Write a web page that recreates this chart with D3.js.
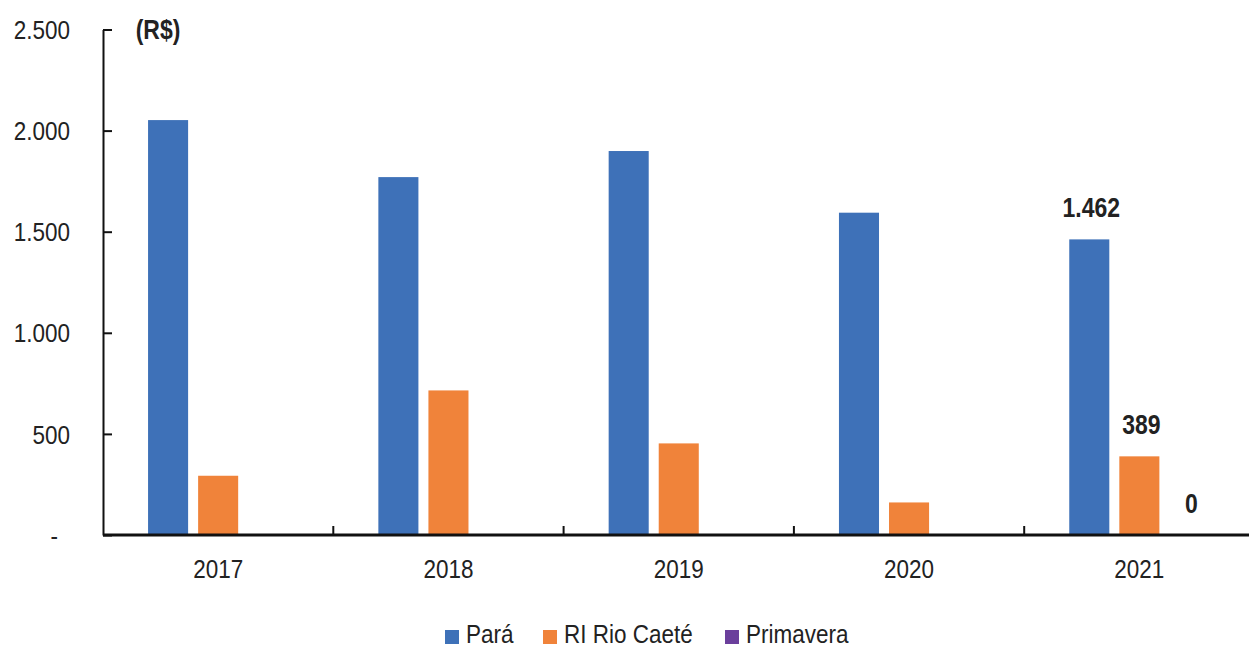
<!DOCTYPE html>
<html><head><meta charset="utf-8">
<script src="https://cdn.jsdelivr.net/npm/d3@7"></script>
<style>
html,body{margin:0;padding:0;background:#fff;}
text{font-family:"Liberation Sans",Arial,sans-serif;fill:#222;}
</style></head>
<body>
<svg id="c" width="1249" height="649"></svg>
<script>
const years = ["2017","2018","2019","2020","2021"];
const seriesNames = ["Pará","RI Rio Caeté","Primavera"];
const para = [2052, 1770, 1899, 1594, 1462];
const rioCaete = [293, 715, 453, 161, 389];
const primavera = [0, 0, 0, 0, 0];
const seriesColors = ["#3e71b8","#f0833a","#6b3f9c"];
const yTicks = [0, 500, 1000, 1500, 2000, 2500];
const yTickLabels = ["-", "500", "1.000", "1.500", "2.000", "2.500"];
const unitLabel = "(R$)";
const valueLabels = [{s:0, i:4, t:"1.462"}, {s:1, i:4, t:"389"}, {s:2, i:4, t:"0"}];

const seriesValues = [para, rioCaete, primavera];
const SY = 1.18; // vertical text stretch
const svg = d3.select("#c");
const x0 = 103, x1 = 1254.5, yTop = 29.5, yBase = 535;
const x = d3.scaleBand().domain(years).range([x0, x1]).padding(0);
const xs = d3.scaleBand().domain(seriesNames).range([0, x.bandwidth()]).paddingInner(0.2).paddingOuter(0.9);
const y = d3.scaleLinear().domain([0, 2500]).range([yBase, yTop]);

function stretchText(sel, px, py, sy) {
  sel.attr("transform", `translate(${px},${py}) scale(1,${sy || SY})`);
}

// bars
const g = svg.append("g");
seriesNames.forEach((name, s) => {
  g.selectAll(null).data(years).enter().append("rect")
    .attr("x", d => x(d) + xs(name))
    .attr("width", xs.bandwidth())
    .attr("y", (d, i) => y(seriesValues[s][i]))
    .attr("height", (d, i) => yBase - y(seriesValues[s][i]))
    .attr("fill", seriesColors[s]);
});

// y axis
const yAxis = d3.axisLeft(y).tickValues(yTicks)
  .tickFormat((d, i) => yTickLabels[i]).tickSizeInner(-9).tickSizeOuter(0).tickPadding(33);
const ya = svg.append("g").attr("transform", `translate(${x0},0)`).call(yAxis);
ya.select(".domain").attr("stroke", "#111").attr("stroke-width", 2);
ya.selectAll(".tick line").attr("stroke", "#111").attr("stroke-width", 2);
ya.selectAll(".tick text").each(function(d, i) {
  const t = d3.select(this);
  const xx = d === 0 ? -45 : -33;
  t.attr("x", null).attr("dy", null)
   .attr("font-size", 22.5).attr("font-family", "Liberation Sans, Arial, sans-serif")
   .attr("fill", "#222").attr("dominant-baseline", "central");
  stretchText(t, xx, 0);
});

// x axis
const xa = svg.append("g").attr("transform", `translate(0,${yBase})`);
xa.append("line").attr("x1", x0).attr("x2", 1249).attr("stroke", "#111").attr("stroke-width", 3);
xa.selectAll(".bt").data(years.slice(1)).enter().append("line")
  .attr("x1", d => x(d)).attr("x2", d => x(d)).attr("y1", 0).attr("y2", -9)
  .attr("stroke", "#111").attr("stroke-width", 2);
xa.selectAll(".xl").data(years).enter().append("text")
  .attr("text-anchor", "middle").attr("font-size", 22.5).text(d => d)
  .each(function(d) { stretchText(d3.select(this), x(d) + x.bandwidth() / 2, 43); });

// unit label
stretchText(svg.append("text").attr("text-anchor", "middle").attr("font-size", 23)
  .attr("font-weight", "bold").attr("fill", "#111").text(unitLabel), 158, 39);

// value labels
valueLabels.forEach(v => {
  const name = seriesNames[v.s];
  const cx = x(years[v.i]) + xs(name) + xs.bandwidth() / 2 + 2;
  const cy = y(seriesValues[v.s][v.i]) - 22;
  stretchText(svg.append("text").attr("text-anchor", "middle").attr("font-size", 23)
    .attr("font-weight", "bold").attr("fill", "#111").text(v.t), cx, cy);
});

// legend
const legendX = [445, 543, 725];
const lg = svg.append("g");
seriesNames.forEach((name, s) => {
  lg.append("rect").attr("x", legendX[s]).attr("y", 630).attr("width", 14).attr("height", 14)
    .attr("fill", seriesColors[s]);
  stretchText(lg.append("text").attr("font-size", 22.5).text(name), legendX[s] + 21, 643, 1.12);
});
</script>
</body></html>
